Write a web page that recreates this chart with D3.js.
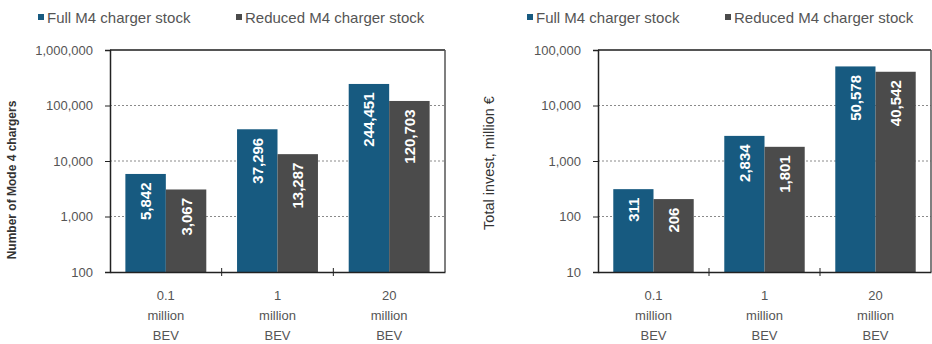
<!DOCTYPE html>
<html lang="en">
  <head>
    <meta charset="UTF-8">
    <title>Mode 4 chargers</title>
    <style>
      body { margin: 0; background: #fff; }
      svg { display: block; font-family: "Liberation Sans", Arial, sans-serif; }
    </style>
    <script src="https://d3js.org/d3.v7.min.js"></script>
    <script>
      var categories = ["0.1 million BEV", "1 million BEV", "20 million BEV"];
      var seriesNames = ["Full M4 charger stock", "Reduced M4 charger stock"];
      var chargersFull = [5842, 37296, 244451];
      var chargersReduced = [3067, 13287, 120703];
      var investFull = [311, 2834, 50578];
      var investReduced = [206, 1801, 40542];
      var chargerTicks = [100, 1000, 10000, 100000, 1000000];
      var investTicks = [10, 100, 1000, 10000, 100000];

      window.onload = function () {
        var colors = ["#175a80", "#4b4b4b"];
        var svg = d3.select("body").append("svg")
          .attr("width", 932)
          .attr("height", 344);

        function drawChart(left, right, values, ticks, title, titleStyle, titleX, titleY, legendX) {
          var top = 50, bottom = 272;
          var x = d3.scaleBand().domain(categories).range([left, right]);
          var xs = d3.scaleBand().domain(seriesNames)
            .range([0, x.bandwidth()]).paddingInner(0).paddingOuter(0.38);
          var y = d3.scaleLog().domain([ticks[0], ticks[ticks.length - 1]]).range([bottom, top]);
          var g = svg.append("g");

          // dotted grid
          g.selectAll("line.grid").data(ticks.slice(1, -1)).enter().append("line")
            .attr("x1", left).attr("x2", right)
            .attr("y1", function (d) { return y(d); })
            .attr("y2", function (d) { return y(d); })
            .attr("stroke", "#8a8a8a").attr("stroke-dasharray", "2,2");

          // bars
          var rows = categories.map(function (c, i) {
            return seriesNames.map(function (s, j) {
              return { cat: c, series: s, value: values[j][i], idx: j };
            });
          });
          var groups = g.selectAll("g.cat").data(rows).enter().append("g")
            .attr("transform", function (d) { return "translate(" + x(d[0].cat) + ",0)"; });
          groups.selectAll("rect").data(function (d) { return d; }).enter().append("rect")
            .attr("x", function (d) { return xs(d.series); })
            .attr("y", function (d) { return y(d.value); })
            .attr("width", xs.bandwidth())
            .attr("height", function (d) { return bottom - y(d.value); })
            .attr("fill", function (d) { return colors[d.idx]; });
          groups.selectAll("text").data(function (d) { return d; }).enter().append("text")
            .attr("transform", function (d) {
              return "translate(" + (xs(d.series) + xs.bandwidth() / 2 + 5.5) + "," + (y(d.value) + 8.5) + ") rotate(-90)";
            })
            .attr("text-anchor", "end")
            .attr("fill", "#fff")
            .attr("font-size", "15px")
            .attr("font-weight", "bold")
            .text(function (d) { return d3.format(",")(d.value); });

          // frame
          g.append("line").attr("x1", left).attr("x2", right).attr("y1", top).attr("y2", top)
            .attr("stroke", "#555").attr("stroke-width", 2);
          g.append("line").attr("x1", right).attr("x2", right).attr("y1", top).attr("y2", bottom)
            .attr("stroke", "#555").attr("stroke-width", 1.5);

          var yAxis = d3.axisLeft(y).tickValues(ticks).tickFormat(d3.format(",")).tickSize(5).tickPadding(12);
          var ya = g.append("g").attr("transform", "translate(" + left + ",0)").call(yAxis);
          ya.select(".domain").attr("stroke", "#222").attr("stroke-width", 1.5);
          ya.selectAll(".tick line").attr("stroke", "#222");
          ya.selectAll("text").attr("fill", "#555").attr("font-size", "13px")
            .attr("font-family", "Liberation Sans, Arial, sans-serif");

          var xa = g.append("g").attr("transform", "translate(0," + bottom + ")")
            .call(d3.axisBottom(x).tickSize(0).tickFormat(""));
          xa.select(".domain").attr("stroke", "#222").attr("stroke-width", 1.5);
          g.selectAll("line.sep").data(categories.slice(1)).enter().append("line")
            .attr("x1", function (d) { return x(d); })
            .attr("x2", function (d) { return x(d); })
            .attr("y1", bottom - 4).attr("y2", bottom + 4)
            .attr("stroke", "#222");

          // category labels
          var labels = g.selectAll("text.cat").data(categories).enter().append("text")
            .attr("text-anchor", "middle")
            .attr("fill", "#555").attr("font-size", "13px");
          labels.selectAll("tspan").data(function (d) { return d.split(" "); }).enter().append("tspan")
            .attr("x", function () { return x(this.parentNode.__data__) + x.bandwidth() / 2; })
            .attr("y", function (d, i) { return bottom + 28 + i * 20; })
            .text(function (d) { return d; });

          // axis title
          g.append("text")
            .attr("transform", "translate(" + titleX + "," + titleY + ") rotate(-90)")
            .attr("text-anchor", "middle")
            .attr("fill", "#333")
            .attr("font-size", titleStyle.size)
            .attr("font-weight", titleStyle.weight)
            .text(title);

          // legend
          var lg = g.selectAll("g.leg").data(seriesNames).enter().append("g")
            .attr("transform", function (d, i) { return "translate(" + legendX[i] + ",0)"; });
          lg.append("rect").attr("x", 0).attr("y", 14).attr("width", 6).attr("height", 6)
            .attr("fill", function (d, i) { return colors[i]; });
          lg.append("text").attr("x", 9).attr("y", 22.5)
            .attr("fill", "#555").attr("font-size", "15px")
            .text(function (d) { return d; });
        }

        drawChart(110, 445, [chargersFull, chargersReduced], chargerTicks,
          "Number of Mode 4 chargers", { size: "12px", weight: "bold" }, 16, 180, [38, 236]);
        drawChart(598, 931, [investFull, investReduced], investTicks,
          "Total invest, million \u20ac", { size: "14.5px", weight: "normal" }, 494, 163, [527, 725]);
      };
    </script>
  </head>
  <body>
  </body>
</html>
